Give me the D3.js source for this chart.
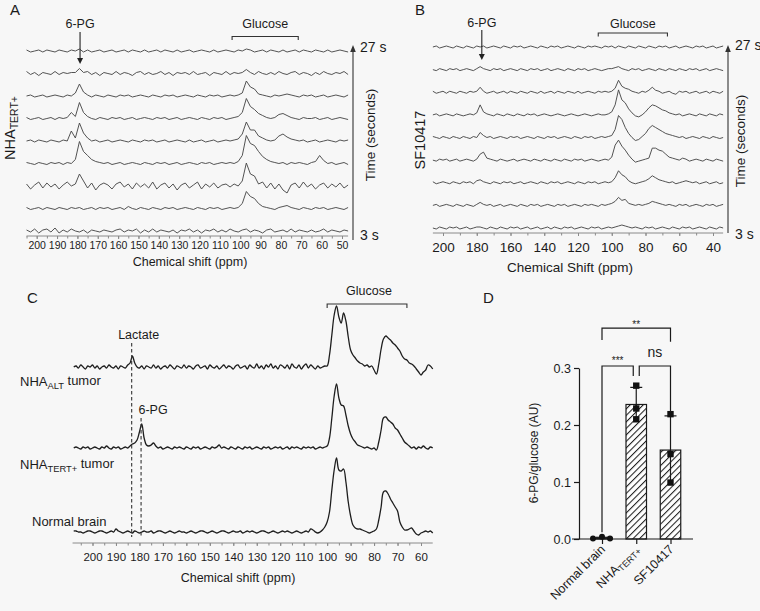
<!DOCTYPE html>
<html><head><meta charset="utf-8">
<script src="https://cdn.jsdelivr.net/npm/d3@7/dist/d3.min.js"></script>
<style>
html,body{margin:0;padding:0;background:#f7f7f7;}
svg{display:block;}
text{font-family:"Liberation Sans",Arial,Helvetica,sans-serif;fill:#1b1b1b;}
</style></head><body>
<svg id="fig" width="760" height="611"></svg>
<script>
// ================= DATA =================
// Panel A : NHA TERT+ dynamic spectra (intensity a.u., one value per 2 ppm)
const timesA = [27,24,21,18,15,12,9,6,3];
const shiftA = d3.range(205, 46, -2);
const ticksA = [200,190,180,170,160,150,140,130,120,110,100,90,80,70,60,50];
const tracesA = [
[1,-1,0,1,-1,1,0,-1,1,0, -1,1,0,2,-1,1,-1,0,1,-1, 0,1,-1,0,1,-1,1,0,-1,1, -1,0,1,-1,1,0,-1,1,-1,0, 1,-1,0,1,0,-1,1,-1,0,1, 0,-1,1,0,2,1,-1,0,1,-1, 1,0,-1,1,-1,0,1,-1,1,0, -1,1,0,-1,1,-1,0,1,0,-1],
[2,-1,1,-2,1,0,-1,2,-1,1, 0,1,1,5,1,2,-1,1,-2,1, 0,-1,2,-1,1,0,-2,1,2,-1, 1,-1,0,2,-1,1,-2,1,0,1, -1,2,-1,0,1,-2,1,0,-1,2, -1,1,0,1,4,1,-1,2,0,-1, 1,-1,2,0,-1,1,2,-1,1,0, -2,1,-1,2,0,-1,1,0,2,-1],
[0,1,-1,0,1,-1,0,1,0,-1, 1,0,3,12,4,1,-1,1,0,-1, 1,0,-1,1,0,1,-1,0,1,0, -1,1,0,-1,1,0,1,-1,0,1, 0,-1,1,0,-1,1,0,1,-1,0, 1,0,1,3,15,9,7,2,1,0, -1,1,0,1,2,1,0,-1,1,0, 1,-1,0,1,-1,0,1,0,-1,1],
[1,-1,0,1,-1,0,1,-1,1,0, 1,6,2,16,6,2,0,-1,1,0, -1,1,0,1,-1,0,1,-1,0,1, 0,-1,1,0,1,-1,0,1,-1,0, 1,0,-1,1,0,-1,1,0,1,-1, 0,1,2,6,20,12,9,5,3,1, 0,1,4,5,3,1,0,-1,1,0, 0,1,-1,0,1,-1,0,1,0,-1],
[0,1,-1,1,0,-1,1,0,-1,1, 0,10,3,18,8,3,0,1,-1,0, 1,-1,0,1,0,-1,1,0,-1,1, 0,1,-1,0,1,-1,0,1,0,-1, 1,-1,0,1,-1,0,1,-1,0,1, 0,1,2,7,19,11,11,5,3,1, 0,1,5,7,4,2,1,0,1,-1, 0,1,-1,0,1,0,-1,1,0,1],
[1,0,-1,1,0,-1,1,0,1,-1, 1,0,4,22,12,8,4,2,1,0, 1,-1,0,1,-1,0,1,0,-1,1, 0,-1,1,0,1,-1,0,1,-1,0, 1,0,-1,1,0,1,-1,0,1,0, 1,0,2,8,28,20,18,12,7,4, 2,1,0,1,-1,1,0,1,0,-1, 1,2,8,3,0,1,-1,0,1,-1],
[2,-3,1,4,-2,3,-1,2,-3,1, 4,0,2,12,5,-2,3,-4,1,3, 1,-3,2,4,-1,2,-3,3,-1,2, -2,4,-3,1,3,-2,2,-4,1,3, -2,1,4,-3,2,-1,3,-2,1,2, -1,2,0,5,23,12,10,2,4,-2, 3,-3,2,-4,-7,1,3,-2,4,-1, 2,-3,1,3,-2,2,-1,3,-2,1],
[1,-1,0,1,-1,1,0,-1,1,0, -1,1,0,1,-1,0,1,-1,1,0, 1,-1,0,1,-1,2,0,-1,1,0, -1,1,0,-1,1,0,1,-1,0,1, 0,-1,1,0,-1,1,0,1,-1,0, 1,0,1,5,17,12,10,5,2,1, 0,-1,1,2,3,1,0,-1,1,0, -1,1,0,1,-1,0,1,0,-1,1],
[1,-1,2,-2,1,2,-1,3,-2,1, -1,2,0,-1,1,-2,1,0,-1,1, 0,-1,1,2,-1,1,0,2,-2,1, -1,2,-1,1,0,-1,1,-2,1,0, 2,-1,1,-2,1,0,2,-1,1,-1, 2,0,-1,1,2,-1,1,0,-2,1, 2,-1,0,1,-1,2,-1,1,0,-1, 1,-1,0,2,-1,1,0,-1,1,0]
];
const pgA = 178.7, glucA = [104, 71.5];

// Panel B : SF10417 dynamic spectra
const timesB = [27,24,21,18,15,12,9,6,3];
const shiftB = d3.range(206, 33, -2);
const ticksB = [200,180,160,140,120,100,80,60,40];
const tracesB = [
[0,1,-1,0,1,0,-1,1,0,-1, 1,0,-1,1,0,1,-1,0,1,0, -1,1,0,-1,1,0,1,-1,0,1, 0,-1,1,0,-1,1,0,1,-1,0, 1,0,-1,1,0,-1,1,0,1,0, -1,1,0,1,-1,1,0,-1,1,0, -1,1,0,-1,1,0,-1,1,0,1, -1,0,1,-1,0,1,0,-1,1,0, 1,-1,0,1,-1,0,1],
[0,-1,1,0,-1,1,0,1,-1,0, 1,0,-1,1,3,1,0,-1,1,0, 1,-1,0,1,0,-1,1,0,-1,1, 0,1,-1,0,1,-1,0,1,0,-1, 1,0,-1,1,0,1,-1,0,1,0, -1,0,1,1,2,3,1,0,-1,1, 0,1,-1,0,1,0,-1,1,0,-1, 1,0,-1,1,0,-1,1,0,1,-1, 0,1,-1,0,1,0,-1],
[1,-1,0,1,-1,1,0,-1,1,0, -1,1,0,1,5,1,-1,0,1,-1, 0,1,-1,1,0,-1,1,0,-1,1, 0,-1,1,-1,0,1,-1,1,0,-1, 1,0,-1,1,-1,0,1,0,-1,1, 0,1,0,1,4,12,6,4,3,1, 0,-1,1,0,2,5,2,1,-1,0, 1,-1,-2,1,0,1,-1,0,1,-1, 0,1,-1,1,0,-1,1],
[0,1,-1,0,1,0,-1,1,0,-1, 0,1,0,2,10,3,1,0,-1,1, 0,-1,1,0,-1,1,0,-1,1,0, 1,-1,0,1,0,-1,0,1,0,-1, 0,1,0,-1,0,1,0,-1,0,1, 0,0,1,3,10,25,15,12,6,2, -1,-2,0,3,7,10,9,7,5,4, 2,1,0,1,-1,0,1,0,-1,1, 0,-1,1,0,-1,1,0],
[1,0,-1,1,0,-1,1,0,-1,1, 0,-1,1,0,5,2,0,1,-1,0, 1,0,-1,1,0,1,-1,0,1,0, -1,1,0,-1,1,0,1,-1,0,1, 0,-1,1,0,-1,1,0,1,-1,0, 1,0,1,2,8,22,18,10,4,0, -3,-2,1,4,9,12,10,8,6,4, 3,2,1,0,1,-1,0,1,0,-1, 1,0,-1,1,0,-1,0],
[0,-1,1,0,1,-1,0,1,-1,0, 1,0,-1,1,6,8,2,1,0,-1, 1,0,-1,0,1,-1,0,1,0,-1, 1,0,-1,1,0,-1,1,0,-1,1, 0,-1,1,0,1,-1,0,1,0,-1, 0,1,0,3,15,20,14,10,5,1, -2,-1,0,1,2,12,12,10,9,6, 3,2,1,0,2,1,-1,0,1,0, -1,1,0,-1,1,0,-1],
[1,-1,0,1,0,-1,1,0,-1,1, 0,1,-1,2,3,1,0,-1,1,0, -1,1,0,1,-1,0,1,-1,0,1, 0,-1,1,0,-1,1,0,1,-1,0, 1,0,-1,1,0,-1,1,0,1,-1, 0,1,0,1,5,12,8,6,2,0, -1,0,1,2,4,7,5,3,2,1, 0,1,-1,0,1,2,1,0,1,-1, 0,1,-1,0,1,-1,0],
[0,1,-1,0,1,0,-1,1,0,-1, 1,0,-1,1,3,1,0,1,-1,0, 1,-1,0,1,0,-1,1,0,-1,1, 0,1,-1,0,1,0,-1,1,0,1, -1,0,1,0,-1,1,0,1,0,-1, 1,0,1,2,4,8,5,6,2,1, 0,1,0,1,2,4,3,2,1,0, 1,0,-1,1,0,1,-1,0,1,0, -1,1,0,1,-1,0,1],
[0,-1,1,0,-1,1,0,1,-1,0, 1,-1,0,1,1,0,-1,1,0,-1, 1,0,-1,1,0,1,-1,0,1,-1, 0,1,-1,0,1,-1,1,0,-1,1, 0,1,-1,0,1,0,-1,1,0,1, -1,0,1,0,1,2,3,2,1,0, 1,0,-1,1,0,1,-1,0,1,0, -1,1,0,-1,1,0,1,-1,0,1, 0,-1,1,0,-1,1,0]
];
const pgB = 177, glucB = [108, 67];

// Panel C : tumour / brain spectra (one value per 1 ppm, 208 -> 55)
const samplesC = ["NHA|ALT| tumor", "NHA|TERT+| tumor", "Normal brain"];
const shiftC = d3.range(208, 54, -1);
const ticksC = [200,190,180,170,160,150,140,130,120,110,100,90,80,70,60];
const specALT = [0,1,-1,2,0,-2,1,0,2,-1, 1,-2,0,1,-1,2,0,-1,1,-2, 1,0,-1,2,4,11,4,0,-1,1, -2,1,0,-1,2,-1,1,-2,0,1, -1,2,0,-2,1,0,-1,2,-1,1, 0,-2,1,2,-1,0,1,-2,2,0, -1,1,-2,0,2,-1,1,0,-2,1, 2,-1,0,1,-2,2,0,-1,3,-1, 1,-2,2,0,3,-1,1,-2,2,1, -1,2,-2,3,0,-1,2,-2,1,3, -1,2,0,-2,1,-1,0,1,1,12, 32,52,61,50,44,54,46,30,17,12, 9,6,4,3,1,2,0,1,-3,-7, 3,18,28,31,29,27,24,22,19,16, 11,8,7,4,3,1,-2,-5,-8,-5, -3,2,1,-2];
const specTERT = [0,1,0,-1,1,0,1,-1,0,1, 0,-1,1,0,2,0,-1,1,0,1, -1,0,1,0,2,4,5,8,16,24, 10,3,2,3,5,2,0,1,-1,0, 1,0,-1,1,0,1,0,-1,1,0, -1,1,0,1,-1,0,1,0,-1,1, 0,1,3,0,1,0,-1,1,0,-1, 1,0,-1,1,0,1,-1,0,1,0, -1,1,0,1,-1,0,1,0,1,-1, 0,1,-1,1,0,1,0,-1,1,0, 1,0,1,-1,0,1,0,1,2,10, 30,52,64,50,43,42,33,22,14,9, 6,3,2,1,0,1,0,-1,0,-2, 6,18,30,31,28,26,24,20,18,14, 10,6,4,2,0,1,-1,1,0,2, 0,-1,1,0];
const specNormal = [1,1,0,0,-1,0,1,1,0,-1, 0,1,1,0,-1,0,1,0,3,1, 0,-1,0,1,0,-1,1,0,-1,0, 1,0,0,1,-1,0,1,1,0,-1, 0,1,0,-1,0,1,0,0,-1,0, 1,0,-1,0,1,1,0,-1,0,1, 0,-1,0,1,1,0,-1,0,1,0, 0,1,-1,0,1,0,1,0,-1,0, 1,1,0,-1,0,1,0,-1,0,1, 0,1,0,-1,0,1,0,-1,0,1, 0,3,2,0,-1,0,2,5,10,20, 42,62,74,62,61,63,50,30,16,7, 4,3,3,2,1,0,-1,0,1,3, 12,25,40,41,38,33,29,25,21,10, 5,2,2,3,4,1,-2,-3,-1,0, 1,0,1,-1];
const markersC = [{name:"Lactate", ppm:183.3}, {name:"6-PG", ppm:179.3}];
const glucC = [100, 66];

// Panel D : 6-PG / glucose ratio
const catsD = ["Normal brain", "NHA|TERT+|", "SF10417"];
const meansD = [0.002, 0.236, 0.156];
const sdD = [0.001, 0.030, 0.060];
const pointsD = [[0.001,0.004,0.001],[0.269,0.229,0.210],[0.219,0.149,0.099]];
const ticksD = [0, 0.1, 0.2, 0.3];
const sigD = [{a:0, b:1, label:"***"}, {a:1, b:2, label:"ns"}, {a:0, b:2, label:"**"}];

// ================= DRAWING =================
const svg = d3.select("#fig");
svg.append("rect").attr("width",760).attr("height",611).attr("fill","#f7f7f7");
const amp = d3.scaleLinear().domain([0,1]).range([0,-1]);

function subText(sel, label){
  const p = label.split("|");
  sel.text(null);
  sel.append("tspan").text(p[0]);
  if (p.length > 1){
    sel.append("tspan").attr("font-size","0.72em").attr("dy","0.28em").text(p[1]);
    if (p[2]) sel.append("tspan").attr("dy","-0.28em").text(p[2]);
  }
}

function specAxis(x, yAx, ext, majors, minors, fs, pad, col){
  const g = svg.append("g").attr("transform",`translate(0,${yAx})`);
  g.append("line").attr("x1",x(ext[0])).attr("x2",x(ext[1])).attr("stroke",col).attr("stroke-width",1);
  const gm = g.append("g").call(d3.axisBottom(x).tickValues(minors).tickSize(2.5).tickFormat(""));
  gm.select(".domain").remove();
  gm.selectAll("line").attr("stroke",col);
  const ga = g.append("g").call(d3.axisBottom(x).tickValues(majors).tickSize(3).tickPadding(pad));
  ga.select(".domain").remove();
  ga.selectAll("line").attr("stroke",col);
  ga.selectAll("text").attr("font-size",fs).attr("font-family",'"Liberation Sans",Arial,sans-serif').attr("fill","#1b1b1b");
}

function arrowDown(x, y1, y2){
  svg.append("line").attr("x1",x).attr("x2",x).attr("y1",y1).attr("y2",y2-4).attr("stroke","#222").attr("stroke-width",1.1);
  svg.append("path").attr("d",`M${x-3},${y2-6}L${x+3},${y2-6}L${x},${y2}Z`).attr("fill","#222");
}
function bracket(x1, x2, y, h){
  svg.append("path").attr("d",`M${x1},${y+h}V${y}H${x2}V${y+h}`).attr("fill","none").attr("stroke","#333").attr("stroke-width",1.1);
}
function timeAxis(x, yTop, yBot, tx, topY, botY, titleX, titleY){
  svg.append("line").attr("x1",x).attr("x2",x).attr("y1",yBot).attr("y2",yTop+4).attr("stroke","#333").attr("stroke-width",1.1);
  svg.append("path").attr("d",`M${x-2.8},${yTop+6}L${x+2.8},${yTop+6}L${x},${yTop-1}Z`).attr("fill","#333");
  svg.append("text").attr("x",tx).attr("y",topY).attr("font-size",14).text(timesA[0] + " s");
  svg.append("text").attr("x",tx).attr("y",botY).attr("font-size",14).text(timesA[timesA.length-1] + " s");
  svg.append("text").attr("transform",`translate(${titleX},${titleY}) rotate(-90)`).attr("text-anchor","middle").attr("font-size",13.5).text("Time (seconds)");
}

// ---------- Panel A ----------
const xA = d3.scaleLinear().domain([200,50]).range([36.7,342]);
const yA = d3.scalePoint().domain(timesA).range([51,231]);
tracesA.forEach((vals,k)=>{
  const base = yA(timesA[k]);
  const line = d3.line().x((v,i)=>xA(shiftA[i])).y(v=>base+amp(v));
  svg.append("path").attr("d",line(vals)).attr("fill","none").attr("stroke","#4a4a4a").attr("stroke-width",0.95).attr("stroke-linejoin","round");
});
specAxis(xA, 236, [205,47], ticksA, d3.range(205,46,-5), 10.5, 2.5, "#8a8a8a");
svg.append("text").attr("x",190).attr("y",266).attr("text-anchor","middle").attr("font-size",12.5).text("Chemical shift (ppm)");
svg.append("text").attr("x",10).attr("y",15).attr("font-size",15).text("A");
svg.append("text").attr("x",xA(pgA)).attr("y",28).attr("text-anchor","middle").attr("font-size",12.5).text("6-PG");
arrowDown(xA(pgA), 32, 64);
svg.append("text").attr("x",(xA(glucA[0])+xA(glucA[1]))/2).attr("y",28).attr("text-anchor","middle").attr("font-size",12.5).text("Glucose");
bracket(xA(glucA[0]), xA(glucA[1]), 36.5, 3.5);
timeAxis(353, 46, 240, 360, 52, 240, 375, 135);
subText(svg.append("text").attr("transform","translate(15,128) rotate(-90)").attr("text-anchor","middle").attr("font-size",14.5), "NHA|TERT+|");

// ---------- Panel B ----------
const xB = d3.scaleLinear().domain([200,40]).range([443,713]);
const yB = d3.scalePoint().domain(timesB).range([47,228]);
tracesB.forEach((vals,k)=>{
  const base = yB(timesB[k]);
  const line = d3.line().x((v,i)=>xB(shiftB[i])).y(v=>base+amp(v));
  svg.append("path").attr("d",line(vals)).attr("fill","none").attr("stroke","#4a4a4a").attr("stroke-width",0.95).attr("stroke-linejoin","round");
});
specAxis(xB, 233, [206,34], ticksB, d3.range(200,34,-10), 13.5, 6, "#8a8a8a");
svg.append("text").attr("x",570).attr("y",272).attr("text-anchor","middle").attr("font-size",13.5).text("Chemical Shift (ppm)");
svg.append("text").attr("x",415).attr("y",15).attr("font-size",15).text("B");
svg.append("text").attr("x",xB(pgB)).attr("y",27).attr("text-anchor","middle").attr("font-size",12.5).text("6-PG");
arrowDown(xB(pgB), 30, 60);
svg.append("text").attr("x",(xB(glucB[0])+xB(glucB[1]))/2).attr("y",28).attr("text-anchor","middle").attr("font-size",12.5).text("Glucose");
bracket(xB(glucB[0]), xB(glucB[1]), 33, 3.5);
timeAxis(728, 46, 233, 735, 50, 239, 745, 141);
svg.append("text").attr("transform","translate(425,140) rotate(-90)").attr("text-anchor","middle").attr("font-size",14.5).text("SF10417");

// ---------- Panel C ----------
const xC = d3.scaleLinear().domain([200,60]).range([92.5,421]);
const baseC = [367, 448, 532];
const specsC = [specALT, specTERT, specNormal];
specsC.forEach((vals,k)=>{
  const line = d3.line().x((v,i)=>xC(shiftC[i])).y(v=>baseC[k]+amp(v)).curve(d3.curveCatmullRom.alpha(0.5));
  svg.append("path").attr("d",line(vals)).attr("fill","none").attr("stroke","#1e1e1e").attr("stroke-width",1.3).attr("stroke-linejoin","round");
});
specAxis(xC, 543, [208.5,55], ticksC, d3.range(205,55,-5), 11.5, 7, "#8a8a8a");
svg.append("text").attr("x",238).attr("y",582).attr("text-anchor","middle").attr("font-size",12.5).text("Chemical shift (ppm)");
svg.append("text").attr("x",27).attr("y",303).attr("font-size",15).text("C");
const labPosC = [[20,386],[20,469],[32,526]];
samplesC.forEach((s,k)=>{
  subText(svg.append("text").attr("x",labPosC[k][0]).attr("y",labPosC[k][1]).attr("font-size",13), s);
});
const dashTop = [343, 418];
markersC.forEach((m,k)=>{
  svg.append("line").attr("x1",xC(m.ppm)).attr("x2",xC(m.ppm)).attr("y1",dashTop[k]).attr("y2",537).attr("stroke","#333").attr("stroke-width",1.1).attr("stroke-dasharray","3.5,2.5");
});
svg.append("text").attr("x",xC(markersC[0].ppm)+7).attr("y",339).attr("text-anchor","middle").attr("font-size",12.5).text(markersC[0].name);
svg.append("text").attr("x",xC(markersC[1].ppm)+12).attr("y",414).attr("text-anchor","middle").attr("font-size",12.5).text(markersC[1].name);
svg.append("text").attr("x",369).attr("y",295).attr("text-anchor","middle").attr("font-size",12.5).text("Glucose");
bracket(xC(glucC[0]), xC(glucC[1]), 304, 4);

// ---------- Panel D ----------
svg.append("text").attr("x",483).attr("y",303).attr("font-size",15).text("D");
const xD = d3.scalePoint().domain(catsD).range([602,670.5]);
const yD = d3.scaleLinear().domain([0,0.3]).range([539,368]);
const defs = svg.append("defs");
const pat = defs.append("pattern").attr("id","hatch").attr("patternUnits","userSpaceOnUse").attr("width",4.6).attr("height",4.6).attr("patternTransform","rotate(45)");
pat.append("rect").attr("width",4.6).attr("height",4.6).attr("fill","#ffffff");
pat.append("line").attr("x1",0.5).attr("y1",0).attr("x2",0.5).attr("y2",4.6).attr("stroke","#1e1e1e").attr("stroke-width",1.1);
const bw = 20.5;
catsD.forEach((c,k)=>{
  const cx = xD(c);
  svg.append("rect").attr("x",cx-bw/2).attr("y",yD(meansD[k])).attr("width",bw).attr("height",yD(0)-yD(meansD[k]))
    .attr("fill","url(#hatch)").attr("stroke","#1a1a1a").attr("stroke-width",1.2);
});
// axes
const gy = svg.append("g").attr("transform","translate(579,0)").call(d3.axisLeft(yD).tickValues(ticksD).tickFormat(d3.format(".1f")).tickSize(5).tickSizeOuter(0).tickPadding(3));
gy.select(".domain").attr("stroke","#1a1a1a").attr("stroke-width",1.2);
gy.selectAll("line").attr("stroke","#1a1a1a").attr("stroke-width",1.2);
gy.selectAll("text").attr("font-size",12.5).attr("font-family",'"Liberation Sans",Arial,sans-serif').attr("fill","#1b1b1b");
svg.append("line").attr("x1",572).attr("x2",693).attr("y1",yD(0)).attr("y2",yD(0)).attr("stroke","#1a1a1a").attr("stroke-width",1.2);
const gx = svg.append("g").attr("transform",`translate(0,${yD(0)})`).call(d3.axisBottom(xD).tickSize(5).tickFormat(""));
gx.select(".domain").remove();
gx.selectAll("line").attr("stroke","#1a1a1a").attr("stroke-width",1.2);
catsD.forEach((c,k)=>{
  subText(svg.append("text").attr("transform",`translate(${xD(c)+4},${yD(0)+11}) rotate(-45)`).attr("text-anchor","end").attr("font-size",12.5), c);
});
svg.append("text").attr("transform",`translate(538,453) rotate(-90)`).attr("text-anchor","middle").attr("font-size",12).text("6-PG/glucose (AU)");
// error bars
catsD.forEach((c,k)=>{
  const cx = xD(c);
  svg.append("line").attr("x1",cx).attr("x2",cx).attr("y1",yD(meansD[k]-sdD[k])).attr("y2",yD(meansD[k]+sdD[k])).attr("stroke","#1a1a1a").attr("stroke-width",1.2);
  svg.append("line").attr("x1",cx-6).attr("x2",cx+6).attr("y1",yD(meansD[k]+sdD[k])).attr("y2",yD(meansD[k]+sdD[k])).attr("stroke","#1a1a1a").attr("stroke-width",1.2);
});
// points
const jitterD = [[-9,0,8],[0,0,0],[0,0,0]];
pointsD.forEach((pts,k)=>{
  pts.forEach((v,j)=>{
    const cx = xD(catsD[k]) + jitterD[k][j];
    if (k===0) svg.append("circle").attr("cx",cx).attr("cy",yD(v)).attr("r",3).attr("fill","#111");
    else svg.append("rect").attr("x",cx-3.2).attr("y",yD(v)-3.2).attr("width",6.4).attr("height",6.4).attr("fill","#111");
  });
});
// significance brackets
const sigGeom = [
  {lvl:0.3035, xa:0, xb:-3, la:0.012, lb:0.286, ty:0.311, fs:10},
  {lvl:0.3035, xa:3, xb:0, la:0.286, lb:0.223, ty:0.320, fs:14},
  {lvl:0.370, xa:0, xb:0, la:0.349, lb:0.346, ty:0.373, fs:10}
];
sigD.forEach((s,k)=>{
  const g = sigGeom[k];
  const x1 = xD(catsD[s.a]) + g.xa, x2 = xD(catsD[s.b]) + g.xb;
  svg.append("path").attr("d",`M${x1},${yD(g.la)}V${yD(g.lvl)}H${x2}V${yD(g.lb)}`).attr("fill","none").attr("stroke","#1a1a1a").attr("stroke-width",1.2);
  svg.append("text").attr("x",(x1+x2)/2).attr("y",yD(g.ty)+ (s.label==="ns"?0:2)).attr("text-anchor","middle").attr("font-size",g.fs).text(s.label);
});

// length check (debug)
const bad = [];
tracesA.forEach((t,i)=>{ if(t.length!==shiftA.length) bad.push("A"+i+":"+t.length); });
tracesB.forEach((t,i)=>{ if(t.length!==shiftB.length) bad.push("B"+i+":"+t.length); });
specsC.forEach((t,i)=>{ if(t.length!==shiftC.length) bad.push("C"+i+":"+t.length); });
if (bad.length) svg.append("text").attr("x",5).attr("y",605).attr("font-size",10).attr("fill","red").text(bad.join(" ")+" / "+shiftA.length+","+shiftB.length+","+shiftC.length);
</script>
</body></html>
